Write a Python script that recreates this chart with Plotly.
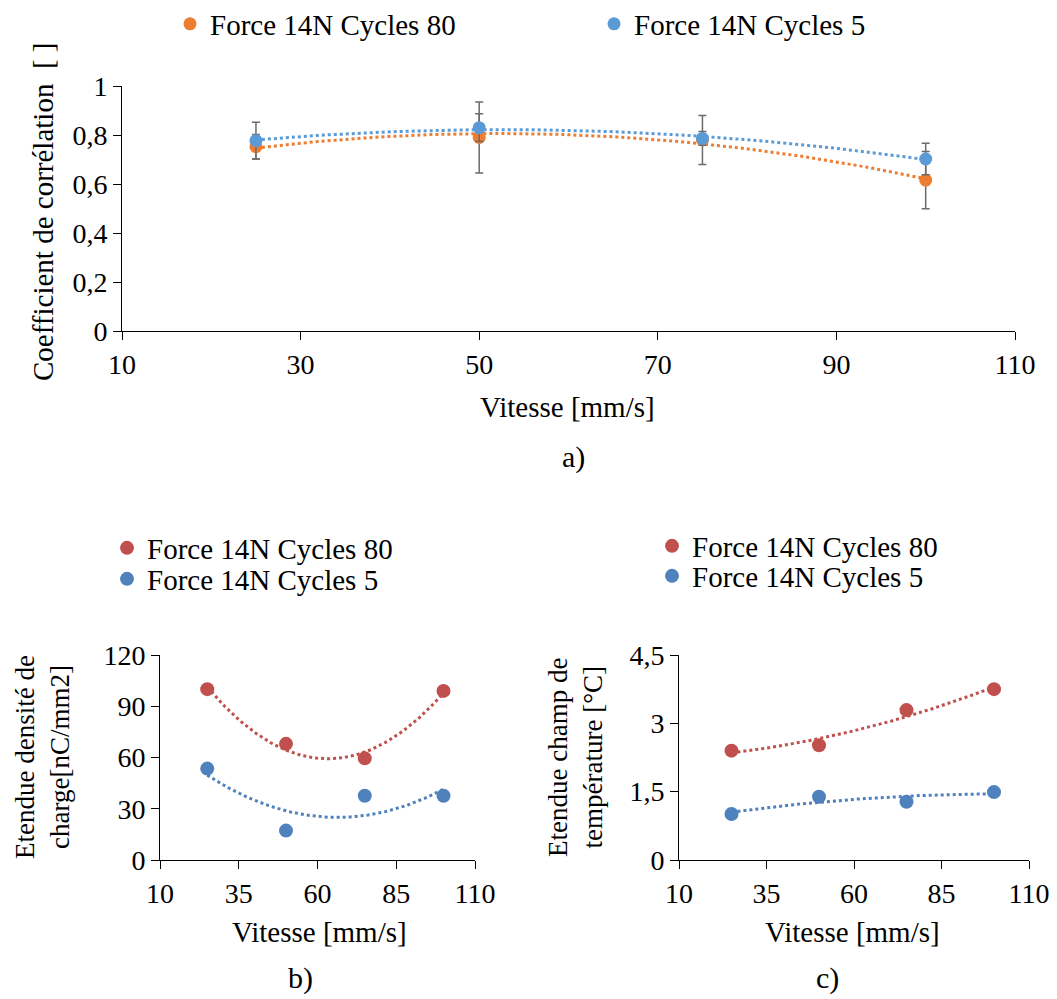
import numpy as np
import plotly.graph_objects as go

# ---------------- data ----------------
speed = [25, 50, 75, 100]

# a) correlation coefficient
corr_c80 = [0.752, 0.790, 0.780, 0.616]
corr_c80_err = [0.050, 0.145, 0.100, 0.117]
corr_c5 = [0.777, 0.830, 0.786, 0.702]
corr_c5_err = [0.075, 0.057, 0.028, 0.064]

# b) charge density range
charge_c80 = [100.0, 68.0, 59.5, 99.0]
charge_c5 = [53.5, 17.2, 37.6, 37.6]

# c) temperature field range
temp_c80 = [2.40, 2.52, 3.29, 3.75]
temp_c80_err = [0.03, 0.10, 0.08, 0.09]
temp_c5 = [1.01, 1.39, 1.28, 1.49]
temp_c5_err = [0.03, 0.03, 0.03, 0.03]

name80 = "Force 14N Cycles 80"
name5 = "Force 14N Cycles 5"

ORANGE = "#ED7D31"
LBLUE = "#5B9BD5"
RED = "#C0504D"
DBLUE = "#4F81BD"
ERR = "#6b6b6b"
FONT = "Liberation Serif, Times New Roman, serif"

W, H = 1057, 999
OFF = 8  # page body margin offset


def px_x(p):
    return (p - OFF) / W


def px_y(p):
    return 1 - (p - OFF) / H


fig = go.Figure()


def add_trend(x, y, color, xa, ya):
    c = np.polyfit(x, y, 2)
    xs = np.linspace(min(x), max(x), 120)
    fig.add_trace(go.Scatter(x=xs, y=np.polyval(c, xs), mode="lines", xaxis=xa, yaxis=ya,
                             line=dict(color=color, width=3, dash="dot"),
                             showlegend=False, hoverinfo="skip"))


def add_markers(x, y, err, color, name, xa, ya, legend, msize):
    kw = {}
    if err is not None:
        kw["error_y"] = dict(type="data", array=err, visible=True,
                             color=ERR, thickness=1.5, width=4)
    fig.add_trace(go.Scatter(x=x, y=y, mode="markers", name=name,
                             xaxis=xa, yaxis=ya, legend=legend,
                             marker=dict(color=color, size=msize), **kw))


# a)
add_trend(speed, corr_c80, ORANGE, "x", "y")
add_trend(speed, corr_c5, LBLUE, "x", "y")
add_markers(speed, corr_c80, corr_c80_err, ORANGE, name80, "x", "y", "legend", 13)
add_markers(speed, corr_c5, corr_c5_err, LBLUE, name5, "x", "y", "legend2", 13)

# b)
add_trend(speed, charge_c80, RED, "x2", "y2")
add_trend(speed, charge_c5, DBLUE, "x2", "y2")
add_markers(speed, charge_c80, None, RED, name80, "x2", "y2", "legend3", 14)
add_markers(speed, charge_c5, None, DBLUE, name5, "x2", "y2", "legend4", 14)

# c)
add_trend(speed, temp_c80, RED, "x3", "y3")
add_trend(speed, temp_c5, DBLUE, "x3", "y3")
add_markers(speed, temp_c80, temp_c80_err, RED, name80, "x3", "y3", "legend5", 14)
add_markers(speed, temp_c5, temp_c5_err, DBLUE, name5, "x3", "y3", "legend6", 14)

axis_common = dict(showline=True, linecolor="#000000", linewidth=1,
                   ticks="outside", ticklen=8, tickcolor="#000000", tickwidth=1,
                   showgrid=False, zeroline=False,
                   tickfont=dict(family=FONT, size=28, color="#000000"))


def leg(text_x, center_y):
    return dict(orientation="v", x=px_x(text_x - 42), y=px_y(center_y),
                xanchor="left", yanchor="middle", tracegroupgap=0,
                font=dict(family=FONT, size=29, color="#000000"),
                bgcolor="rgba(0,0,0,0)")


fig.update_layout(
    width=W, height=H,
    margin=dict(l=0, r=0, t=0, b=0, autoexpand=False),
    paper_bgcolor="white", plot_bgcolor="white",
    separators=", ",
    font=dict(family=FONT, size=28, color="#000000"),
    xaxis=dict(domain=[px_x(122), px_x(1015)], range=[10, 110], tick0=10, dtick=20,
               anchor="y", **axis_common),
    yaxis=dict(domain=[px_y(331), px_y(86)], range=[0, 1], dtick=0.2,
               anchor="x", **axis_common),
    xaxis2=dict(domain=[px_x(160), px_x(475)], range=[10, 110], tick0=10, dtick=25,
                anchor="y2", **axis_common),
    yaxis2=dict(domain=[px_y(860), px_y(655)], range=[0, 120], dtick=30,
                anchor="x2", **axis_common),
    xaxis3=dict(domain=[px_x(679), px_x(1029)], range=[10, 110], tick0=10, dtick=25,
                anchor="y3", **axis_common),
    yaxis3=dict(domain=[px_y(860), px_y(655)], range=[0, 4.5], dtick=1.5,
                anchor="x3", **axis_common),
    legend=leg(212, 24),
    legend2=leg(636, 24),
    legend3=leg(149, 548),
    legend4=leg(149, 579),
    legend5=leg(694, 546),
    legend6=leg(694, 576),
)

ann = [
    dict(text="Coefficient de corrélation  [ ]", x=px_x(43), y=px_y(212), textangle=-90, size=29),
    dict(text="Vitesse [mm/s]", x=px_x(567), y=px_y(407), textangle=0, size=29),
    dict(text="a)", x=px_x(573), y=px_y(457), textangle=0, size=30),
    dict(text="Etendue densité de<br>charge[nC/mm2]", x=px_x(42), y=px_y(757), textangle=-90, size=27),
    dict(text="Vitesse [mm/s]", x=px_x(319), y=px_y(932), textangle=0, size=29),
    dict(text="b)", x=px_x(300), y=px_y(978), textangle=0, size=30),
    dict(text="Etendue champ de<br>température [°C]", x=px_x(575), y=px_y(758), textangle=-90, size=27),
    dict(text="Vitesse [mm/s]", x=px_x(852), y=px_y(932), textangle=0, size=29),
    dict(text="c)", x=px_x(827), y=px_y(978), textangle=0, size=30),
]
for a in ann:
    fig.add_annotation(text=a["text"], x=a["x"], y=a["y"], xref="paper", yref="paper",
                       xanchor="center", yanchor="middle", showarrow=False,
                       textangle=a["textangle"],
                       font=dict(family=FONT, size=a["size"], color="#000000"))

fig.write_html("out.html")
